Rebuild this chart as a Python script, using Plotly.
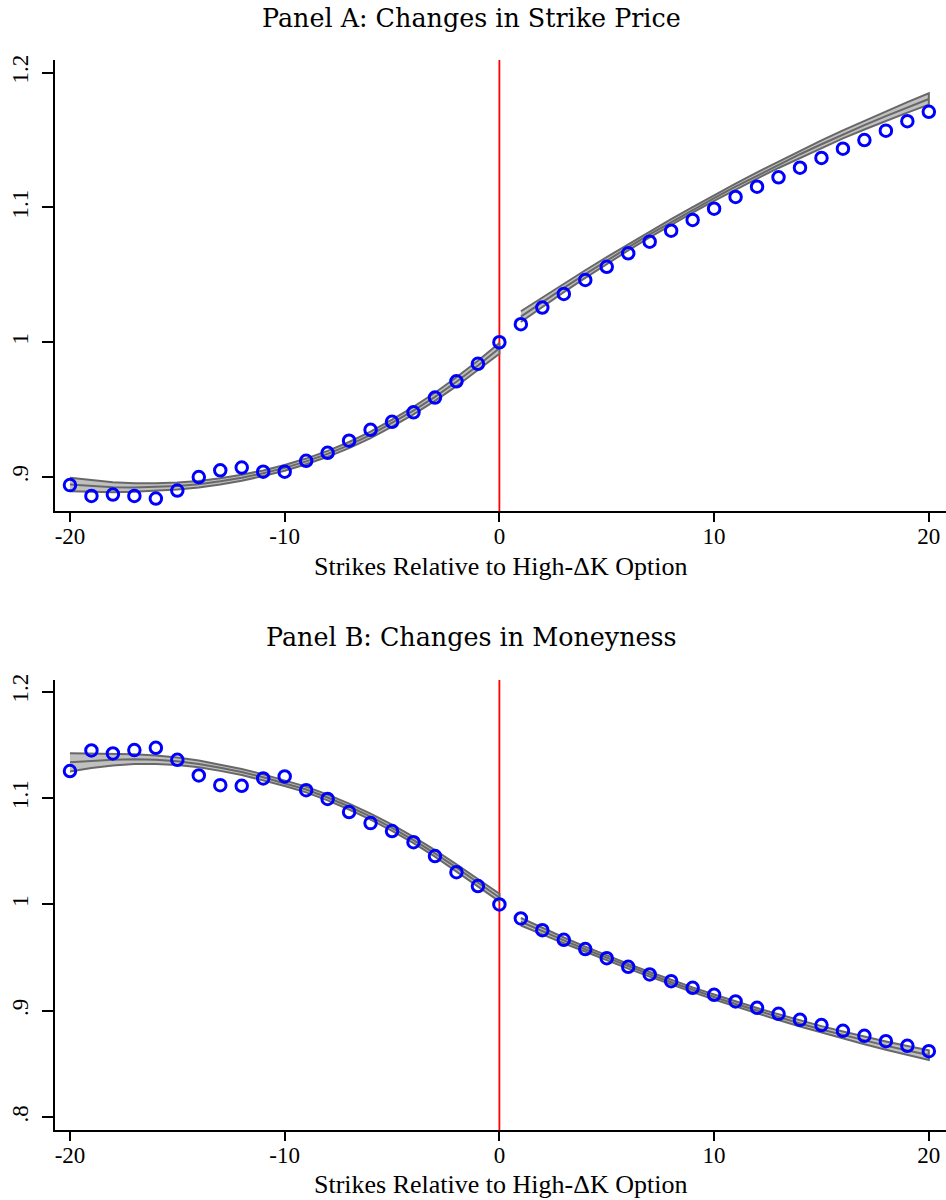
import plotly.graph_objects as go

# ---------------- data ----------------
strikes_left = list(range(-20, 1))
strikes_right = list(range(1, 21))
strikes_all = list(range(-20, 21))

# Panel A: Changes in Strike Price (binned means)
a_points = [0.894, 0.886, 0.887, 0.886, 0.884, 0.890, 0.900, 0.905, 0.907, 0.904,
            0.904, 0.912, 0.918, 0.927, 0.935, 0.941, 0.948, 0.959, 0.971, 0.984,
            1.000,
            1.0134, 1.0257, 1.0358, 1.0462, 1.0560, 1.0660, 1.0746, 1.0828, 1.0907, 1.0991,
            1.1078, 1.1154, 1.1224, 1.1295, 1.1367, 1.1436, 1.1500, 1.1570, 1.1640, 1.1710]
a_fit_left = [0.8945, 0.8933, 0.8925, 0.8922, 0.8925, 0.8933, 0.8947, 0.8968, 0.8995, 0.9028,
              0.9068, 0.9116, 0.9172, 0.9237, 0.9313, 0.9400, 0.9493, 0.9595, 0.9707, 0.9827,
              0.9955]
a_hw_left = [0.0050, 0.0043, 0.0037, 0.0032, 0.0028, 0.0026, 0.0024, 0.0023, 0.0022, 0.0021,
             0.0021, 0.0021, 0.0022, 0.0023, 0.0024, 0.0026, 0.0028, 0.0030, 0.0033, 0.0036,
             0.0040]
a_fit_right = [1.0190, 1.0298, 1.0403, 1.0506, 1.0607, 1.0704, 1.0800, 1.0892, 1.0982, 1.1070,
               1.1155, 1.1237, 1.1317, 1.1395, 1.1469, 1.1542, 1.1611, 1.1678, 1.1743, 1.1805]
a_hw_right = [0.0040, 0.0035, 0.0031, 0.0028, 0.0025, 0.0023, 0.0022, 0.0021, 0.0021, 0.0021,
              0.0022, 0.0023, 0.0024, 0.0026, 0.0028, 0.0030, 0.0033, 0.0036, 0.0039, 0.0042]

# Panel B: Changes in Moneyness
b_points = [1.1253, 1.1447, 1.1419, 1.1450, 1.1472, 1.1359, 1.1212, 1.1121, 1.1115, 1.1184,
            1.1203, 1.1074, 1.0991, 1.0868, 1.0764, 1.0689, 1.0585, 1.0454, 1.0303, 1.0172,
            1.0000,
            0.9868, 0.9758, 0.9667, 0.9580, 0.9495, 0.9414, 0.9342, 0.9279, 0.9216, 0.9151,
            0.9088, 0.9028, 0.8972, 0.8915, 0.8866, 0.8812, 0.8765, 0.8715, 0.8671, 0.8621]
b_fit_left = [1.1335, 1.1350, 1.1360, 1.1365, 1.1360, 1.1345, 1.1320, 1.1285, 1.1245, 1.1195,
              1.1140, 1.1080, 1.1005, 1.0920, 1.0825, 1.0720, 1.0605, 1.0480, 1.0345, 1.0205,
              1.0065]
b_hw_left = [0.0085, 0.0068, 0.0055, 0.0046, 0.0040, 0.0035, 0.0032, 0.0030, 0.0028, 0.0027,
             0.0027, 0.0027, 0.0027, 0.0028, 0.0028, 0.0029, 0.0030, 0.0031, 0.0032, 0.0034,
             0.0036]
b_fit_right = [0.9837, 0.9748, 0.9662, 0.9579, 0.9498, 0.9419, 0.9343, 0.9269, 0.9198, 0.9130,
               0.9064, 0.9001, 0.8940, 0.8881, 0.8825, 0.8772, 0.8721, 0.8673, 0.8627, 0.8584]
b_hw_right = [0.0035, 0.0030, 0.0027, 0.0025, 0.0023, 0.0022, 0.0022, 0.0022, 0.0022, 0.0023,
              0.0024, 0.0025, 0.0027, 0.0029, 0.0031, 0.0033, 0.0036, 0.0039, 0.0042, 0.0045]

x_ticks = [-20, -10, 0, 10, 20]
x_tick_labels = ["-20", "-10", "0", "10", "20"]
a_y_ticks = [0.9, 1.0, 1.1, 1.2]
a_y_labels = [".9", "1", "1.1", "1.2"]
b_y_ticks = [0.8, 0.9, 1.0, 1.1, 1.2]
b_y_labels = [".8", ".9", "1", "1.1", "1.2"]
cutoff = 0

title_a = "Panel A: Changes in Strike Price"
title_b = "Panel B: Changes in Moneyness"
x_title = "Strikes Relative to High-ΔK Option"

# ---------------- styling ----------------
FONT = "Liberation Serif"
TITLE_FONT = "DejaVu Serif"
BAND_FILL = "rgb(192,192,192)"
BAND_LINE = "rgb(104,104,104)"
W, H = 946, 1200

fig = go.Figure()


def add_band(xs, fit, hw, xa, ya):
    upper = [f + h for f, h in zip(fit, hw)]
    lower = [f - h for f, h in zip(fit, hw)]
    fig.add_trace(go.Scatter(
        x=xs + xs[::-1], y=upper + lower[::-1], mode="lines", fill="toself",
        fillcolor=BAND_FILL, line=dict(color=BAND_LINE, width=2),
        xaxis=xa, yaxis=ya, hoverinfo="skip", showlegend=False))
    fig.add_trace(go.Scatter(
        x=xs, y=fit, mode="lines", line=dict(color=BAND_LINE, width=2),
        xaxis=xa, yaxis=ya, showlegend=False))


add_band(strikes_left, a_fit_left, a_hw_left, "x", "y")
add_band(strikes_right, a_fit_right, a_hw_right, "x", "y")
add_band(strikes_left, b_fit_left, b_hw_left, "x2", "y2")
add_band(strikes_right, b_fit_right, b_hw_right, "x2", "y2")

for pts, xa, ya in [(a_points, "x", "y"), (b_points, "x2", "y2")]:
    fig.add_trace(go.Scatter(
        x=strikes_all, y=pts, mode="markers",
        marker=dict(symbol="circle-open", size=11.5, color="#0000ff",
                    line=dict(color="#0000ff", width=3)),
        xaxis=xa, yaxis=ya, showlegend=False))

for xr, yr in [("x", "y domain"), ("x2", "y2 domain")]:
    fig.add_shape(type="line", xref=xr, yref=yr, x0=cutoff, x1=cutoff, y0=0, y1=1,
                  line=dict(color="#ff0000", width=1.8), layer="below")

x_dom = [54.5 / W, 1.0]
xcommon = dict(
    domain=x_dom, range=[-20.72, 20.8], showline=True, linecolor="black", linewidth=1.5,
    ticks="outside", ticklen=9, tickwidth=1.5, tickcolor="black",
    tickvals=x_ticks, ticktext=x_tick_labels, showgrid=False, zeroline=False,
    ticklabelstandoff=-5,
    tickfont=dict(family=FONT, size=23, color="black"), automargin=False)
ycommon = dict(
    showline=True, linecolor="black", linewidth=1.5, ticks="outside", ticklen=11,
    tickwidth=1.5, tickcolor="black", showgrid=False, zeroline=False, tickangle=-90,
    ticklabelstandoff=5,
    tickfont=dict(family=FONT, size=23, color="black"), automargin=False)

fig.update_layout(
    width=W, height=H, margin=dict(l=0, r=0, t=0, b=0),
    paper_bgcolor="white", plot_bgcolor="white", showlegend=False,
    xaxis=dict(anchor="y", **xcommon),
    yaxis=dict(anchor="x", domain=[1 - 511 / H, 1 - 60 / H], range=[0.8748, 1.2094],
               tickvals=a_y_ticks, ticktext=a_y_labels, **ycommon),
    xaxis2=dict(anchor="y2", **xcommon),
    yaxis2=dict(anchor="x2", domain=[1 - 1130 / H, 1 - 680 / H], range=[0.788, 1.2109],
                tickvals=b_y_ticks, ticktext=b_y_labels, **ycommon),
)

ann_font_t = dict(family=TITLE_FONT, size=25.4, color="black")
ann_font_x = dict(family=FONT, size=26, color="black")
fig.add_annotation(text=title_a, xref="paper", yref="paper", x=471 / W, y=1 - 18 / H,
                   xanchor="center", yanchor="middle", showarrow=False, font=ann_font_t)
fig.add_annotation(text=title_b, xref="paper", yref="paper", x=471 / W, y=1 - 637 / H,
                   xanchor="center", yanchor="middle", showarrow=False, font=ann_font_t)
fig.add_annotation(text=x_title, xref="paper", yref="paper", x=500 / W, y=1 - 566 / H,
                   xanchor="center", yanchor="middle", showarrow=False, font=ann_font_x)
fig.add_annotation(text=x_title, xref="paper", yref="paper", x=500 / W, y=1 - 1184 / H,
                   xanchor="center", yanchor="middle", showarrow=False, font=ann_font_x)

fig.write_html("out.html")
